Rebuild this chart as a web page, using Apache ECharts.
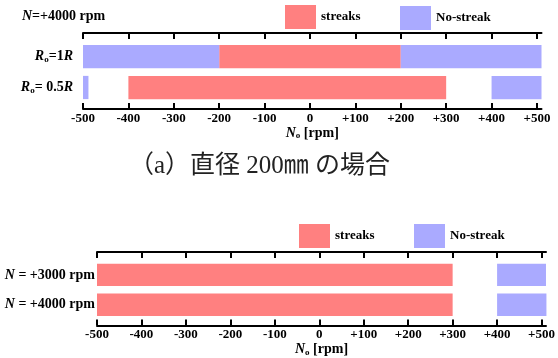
<!DOCTYPE html>
<html><head><meta charset="utf-8">
<script src="https://cdn.jsdelivr.net/npm/echarts@6/dist/echarts.min.js"></script>
<style>html,body{margin:0;padding:0;background:#fff}#c{width:558px;height:358px}</style>
</head><body><div id="c"></div>
<script>
// ---- data ----
const topCategories = ['{i|R}{s|o}=1{i|R}', '{i|R}{s|o}= 0.5{i|R}'];
const bottomCategories = ['{i|N} = +3000 rpm', '{i|N} = +4000 rpm'];
// segments: [rowIndex, start, end]
const topStreaks = [[0, -200, 200], [1, -400, 300]];
const topNoStreak = [[0, -500, -200], [0, 200, 510], [1, -500, -488], [1, 400, 510]];
const bottomStreaks = [[0, -500, 300], [1, -500, 300]];
const bottomNoStreak = [[0, 400, 510], [1, 400, 511]];
const tickValues = [-500, -400, -300, -200, -100, 0, 100, 200, 300, 400, 500];
const topTitle = '{i|N}=+4000 rpm';
const caption = '（a）直径 200㎜ の場合';
const axisName = '{i|N}{s|o} [rpm]';

const RED = '#FF8080', BLUE = '#AAAAFF';
const FONT = '"Liberation Serif", "Times New Roman", serif';
const rich = {
  i: {fontStyle: 'italic', fontFamily: FONT, fontSize: 14, fontWeight: 'bold', color: '#000'},
  s: {fontFamily: FONT, fontSize: 9, fontWeight: 'bold', color: '#000', padding: [6, 0, 0, 0]}
};

function renderItem(params, api) {
  const cat = api.value(0), s = api.value(1), e = api.value(2);
  const p0 = api.coord([s, cat]), p1 = api.coord([e, cat]);
  const h = api.size([0, 1])[1] * 0.75;
  return {type: 'rect', shape: {x: p0[0], y: p0[1] - h / 2, width: p1[0] - p0[0], height: h},
    style: {fill: api.visual('color')}};
}

function xAxisDef(grid, pos, offset, showLabel, gap) {
  return {
    type: 'value', gridIndex: grid, position: pos, offset: offset, min: -500, max: 510,
    axisLine: {show: true, lineStyle: {color: '#000', width: 2}},
    axisTick: {show: true, inside: true, length: 6, lineStyle: {color: '#000', width: 2}, customValues: tickValues},
    axisLabel: {show: showLabel, customValues: tickValues, margin: 3, color: '#000', fontFamily: FONT, fontSize: 13, fontWeight: 'bold',
      formatter: v => v > 0 ? '+' + v : String(v)},
    splitLine: {show: false},
    name: showLabel ? axisName : '', nameLocation: 'middle', nameGap: gap,
    nameTextStyle: {color: '#000', fontFamily: FONT, fontSize: 14, fontWeight: 'bold', rich: rich}
  };
}

function yAxisDef(grid, cats, margin) {
  return {
    type: 'category', gridIndex: grid, data: cats, inverse: true,
    axisLine: {show: false}, axisTick: {show: false},
    axisLabel: {margin: margin, color: '#000', fontFamily: FONT, fontSize: 14, fontWeight: 'bold', rich: rich}
  };
}

function seriesDef(name, color, xi, yi, data) {
  return {type: 'custom', name: name, renderItem: renderItem, xAxisIndex: xi, yAxisIndex: yi,
    itemStyle: {color: color}, encode: {x: [1, 2], y: 0}, data: data, silent: true, animation: false};
}

function legendDef(name, left, top) {
  return {data: [name], left: left, top: top, padding: 0, icon: 'rect', itemWidth: 31, itemHeight: 24,
    selectedMode: false, textStyle: {color: '#000', fontFamily: FONT, fontSize: 13, fontWeight: 'bold'}};
}

const chart = echarts.init(document.getElementById('c'));
chart.setOption({
  animation: false,
  grid: [
    {left: 83, right: 16.5, top: 41, height: 62},
    {left: 97, right: 4.5, top: 260, height: 61}
  ],
  xAxis: [
    xAxisDef(0, 'bottom', 6, true, 14),
    xAxisDef(0, 'top', 8, false, 0),
    xAxisDef(1, 'bottom', 6, true, 16),
    xAxisDef(1, 'top', 8, false, 0)
  ],
  yAxis: [yAxisDef(0, topCategories, 10), yAxisDef(1, bottomCategories, 2)],
  legend: [
    legendDef('streaks', 285, 5), legendDef('No-streak', 400, 6),
    legendDef('streaks', 299, 224), legendDef('No-streak', 414, 224)
  ],
  series: [
    seriesDef('streaks', RED, 0, 0, topStreaks),
    seriesDef('No-streak', BLUE, 0, 0, topNoStreak),
    seriesDef('streaks', RED, 2, 1, bottomStreaks),
    seriesDef('No-streak', BLUE, 2, 1, bottomNoStreak)
  ],
  graphic: [
    {type: 'text', left: 22, top: 9, style: {text: topTitle, fill: '#000', fontFamily: FONT, fontSize: 14, fontWeight: 'bold', rich: rich}},
    {type: 'text', x: 129, y: 166, style: {text: caption, fill: '#222', fontFamily: '"Liberation Serif", "Noto Sans CJK JP", serif', fontSize: 25,
      align: 'left', verticalAlign: 'middle'}}
  ]
});
</script></body></html>
